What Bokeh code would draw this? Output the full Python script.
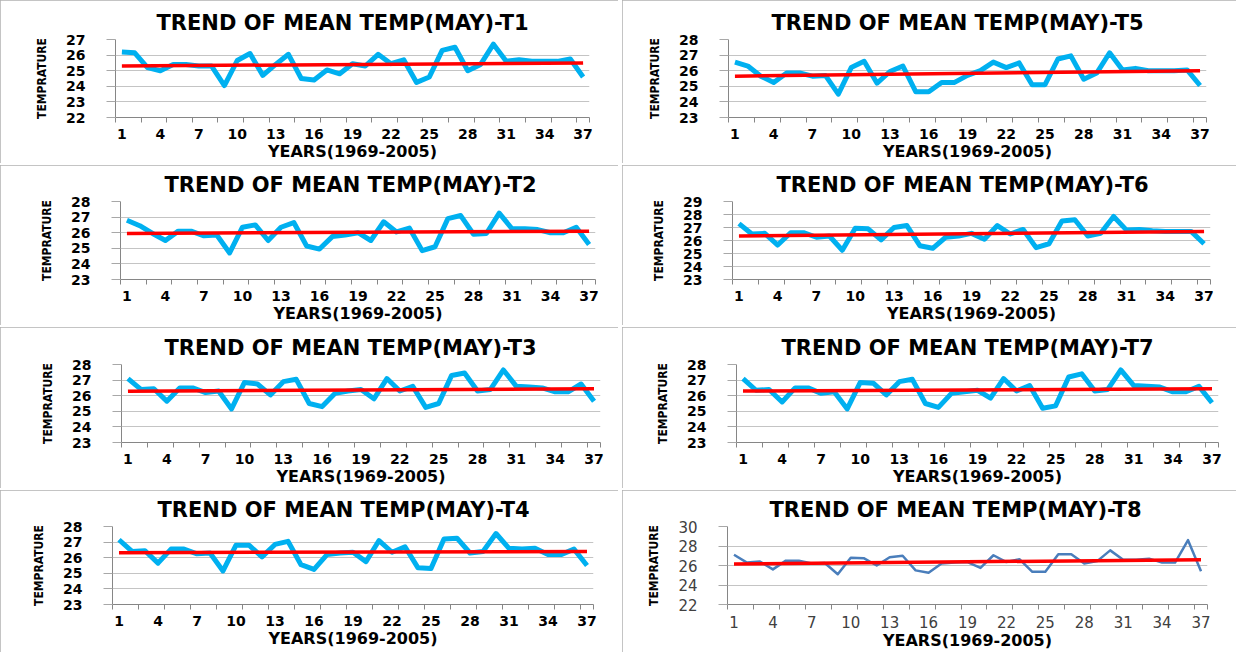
from bokeh.plotting import figure
from bokeh.layouts import column, row
from bokeh.models import Range1d, FixedTicker
from bokeh.embed import file_html
from bokeh.resources import INLINE

# ---------------- data ----------------
years = list(range(1, 38))
x_tick_labels = [1, 4, 7, 10, 13, 16, 19, 22, 25, 28, 31, 34, 37]

t1 = [26.2, 26.15, 25.2, 25.0, 25.4, 25.4, 25.3, 25.3, 24.05, 25.65, 26.1, 24.7, 25.4, 26.05,
      24.5, 24.4, 25.05, 24.8, 25.45, 25.3, 26.05, 25.45, 25.7, 24.25, 24.6, 26.3, 26.5, 25.0,
      25.4, 26.7, 25.6, 25.7, 25.6, 25.6, 25.6, 25.75, 24.6]
t2 = [26.8, 26.45, 25.95, 25.5, 26.1, 26.1, 25.8, 25.85, 24.7, 26.35, 26.5, 25.5, 26.35, 26.65,
      25.15, 24.95, 25.75, 25.85, 26.0, 25.5, 26.7, 26.05, 26.3, 24.85, 25.1, 26.9, 27.1, 25.9,
      25.95, 27.25, 26.25, 26.25, 26.2, 26.0, 26.0, 26.35, 25.25]
t3 = [27.1, 26.4, 26.45, 25.65, 26.5, 26.5, 26.2, 26.3, 25.15, 26.85, 26.75, 26.05, 26.9, 27.05,
      25.5, 25.3, 26.15, 26.3, 26.4, 25.8, 27.1, 26.3, 26.6, 25.25, 25.5, 27.3, 27.45, 26.3,
      26.4, 27.65, 26.6, 26.55, 26.5, 26.25, 26.25, 26.75, 25.65]
t4 = [27.15, 26.4, 26.45, 25.65, 26.55, 26.55, 26.25, 26.3, 25.15, 26.8, 26.8, 26.05, 26.85, 27.05,
      25.55, 25.25, 26.2, 26.3, 26.35, 25.75, 27.1, 26.35, 26.7, 25.35, 25.3, 27.2, 27.25, 26.3,
      26.4, 27.55, 26.6, 26.55, 26.6, 26.2, 26.2, 26.55, 25.5]
t5 = [26.55, 26.3, 25.65, 25.25, 25.85, 25.85, 25.65, 25.7, 24.5, 26.2, 26.6, 25.2, 25.95, 26.3,
      24.65, 24.65, 25.25, 25.25, 25.7, 26.0, 26.55, 26.2, 26.5, 25.1, 25.1, 26.75, 26.95, 25.45,
      25.85, 27.15, 26.05, 26.15, 26.0, 26.0, 26.0, 26.05, 25.05]
t6 = [27.3, 26.5, 26.55, 25.65, 26.6, 26.6, 26.25, 26.35, 25.25, 26.95, 26.9, 26.05, 27.0, 27.15,
      25.6, 25.4, 26.25, 26.35, 26.55, 26.1, 27.15, 26.5, 26.85, 25.45, 25.75, 27.5, 27.6, 26.35,
      26.55, 27.85, 26.8, 26.85, 26.75, 26.7, 26.7, 26.7, 25.75]
t7 = [27.1, 26.35, 26.4, 25.6, 26.5, 26.5, 26.15, 26.25, 25.15, 26.85, 26.8, 26.05, 26.9, 27.05,
      25.5, 25.25, 26.15, 26.25, 26.35, 25.85, 27.1, 26.3, 26.65, 25.2, 25.35, 27.2, 27.4, 26.3,
      26.4, 27.65, 26.65, 26.6, 26.55, 26.25, 26.25, 26.6, 25.55]
t8 = [27.1, 26.3, 26.4, 25.6, 26.5, 26.5, 26.2, 26.25, 25.1, 26.8, 26.75, 26.0, 26.85, 27.0,
      25.5, 25.25, 26.2, 26.3, 26.35, 25.75, 27.05, 26.35, 26.65, 25.35, 25.35, 27.15, 27.15, 26.2,
      26.45, 27.55, 26.6, 26.6, 26.7, 26.3, 26.3, 28.6, 25.4]

trend_t1 = [25.3, 25.5]
trend_t2 = [25.95, 26.1]
trend_t3 = [26.28, 26.45]
trend_t4 = [26.32, 26.4]
trend_t5 = [25.65, 26.0]
trend_t6 = [26.35, 26.7]
trend_t7 = [26.3, 26.45]
trend_t8 = [26.15, 26.6]

y_ticks_t1 = [22, 23, 24, 25, 26, 27]
y_ticks_t2 = [23, 24, 25, 26, 27, 28]
y_ticks_t3 = [23, 24, 25, 26, 27, 28]
y_ticks_t4 = [23, 24, 25, 26, 27, 28]
y_ticks_t5 = [23, 24, 25, 26, 27, 28]
y_ticks_t6 = [23, 24, 25, 26, 27, 28, 29]
y_ticks_t7 = [23, 24, 25, 26, 27, 28]
y_ticks_t8 = [22, 24, 26, 28, 30]

titles = ["TREND OF MEAN TEMP(MAY)-T%d" % i for i in range(1, 9)]
x_title = "YEARS(1969-2005)"
y_title = "TEMPRATURE"

# ---------------- layout / style (not data) ----------------
LEFT_W, RIGHT_W = 618, 614
ROW_H = [163, 160, 161, 162]
# (min_border_left, right, top, bottom, title_offset)
geom = {
    "t1": (115, 29, 39, 44, 41),
    "t2": (120, 23, 34, 45, 44),
    "t3": (121, 18, 36, 46, 43),
    "t4": (112, 25, 36, 45, 45),
    "t5": (106, 30, 37, 45, 43),
    "t6": (110, 26, 33, 45, 44),
    "t7": (114, 18, 37, 45, 45),
    "t8": (105, 29, 36, 45, 42),
}
BOLD_FONT = "DejaVu Sans"
NARROW_FONT = "'DejaVu Sans Condensed', 'Liberation Sans', sans-serif"


def panel(key, width, height, title, values, trend, yticks, thin=False):
    bl, br, bt, bb, toff = geom[key]
    p = figure(width=width, height=height, output_backend="svg", toolbar_location=None,
               x_range=Range1d(0.5, 37.5), y_range=Range1d(yticks[0], yticks[-1]),
               min_border_left=bl, min_border_right=br, min_border_top=bt, min_border_bottom=bb,
               background_fill_color="white", border_fill_color="white", outline_line_color=None)
    p.styles = {"outline": "1px solid #b0b0b0", "outline-offset": "-1px"}

    p.title.text = title
    p.title.text_font = BOLD_FONT
    p.title.text_font_style = "bold"
    p.title.text_font_size = "21px"
    p.title.text_color = "#000000"
    p.title.align = "left"
    p.title.offset = toff
    p.title.standoff = 10

    p.xgrid.grid_line_color = None
    p.ygrid.grid_line_color = "#c4c4c4"
    p.ygrid.grid_line_width = 1

    label_style = "normal" if thin else "bold"
    label_color = "#404040" if thin else "#000000"
    label_size = "15px" if thin else "14px"

    xa = p.xaxis[0]
    xa.ticker = FixedTicker(ticks=x_tick_labels,
                            minor_ticks=[0.5 + 2 * i for i in range(19)] + [37.5])
    xa.axis_line_color = "#868686"
    xa.major_tick_out = 0
    xa.major_tick_in = 0
    xa.minor_tick_out = 5
    xa.minor_tick_in = 0
    xa.minor_tick_line_color = "#868686"
    xa.major_label_text_font = BOLD_FONT
    xa.major_label_text_font_style = label_style
    xa.major_label_text_font_size = label_size
    xa.major_label_text_color = label_color
    xa.major_label_standoff = 6
    xa.axis_label = x_title
    xa.axis_label_text_font = BOLD_FONT
    xa.axis_label_text_font_style = "bold"
    xa.axis_label_text_font_size = "16px"
    xa.axis_label_text_color = "#000000"
    xa.axis_label_standoff = 0

    ya = p.yaxis[0]
    ya.ticker = FixedTicker(ticks=yticks, minor_ticks=[])
    ya.axis_line_color = "#868686"
    ya.major_tick_out = 9
    ya.major_tick_in = 0
    ya.major_tick_line_color = "#a8a8a8"
    ya.minor_tick_line_color = None
    ya.major_label_text_font = BOLD_FONT
    ya.major_label_text_font_style = label_style
    ya.major_label_text_font_size = label_size
    ya.major_label_text_color = label_color
    ya.major_label_standoff = 21
    ya.axis_label = y_title
    ya.axis_label_text_font = NARROW_FONT
    ya.axis_label_text_font_style = "bold"
    ya.axis_label_text_font_size = "12px"
    ya.axis_label_text_color = "#000000"
    ya.axis_label_standoff = 14

    if thin:
        p.line(years, values, line_color="#4a7ebb", line_width=2.5, line_join="round")
    else:
        p.line(years, values, line_color="#00b0f0", line_width=5, line_join="round")
    p.line([years[0], years[-1]], trend, line_color="#ff0000", line_width=3.5)
    return p


p1 = panel("t1", LEFT_W, ROW_H[0], titles[0], t1, trend_t1, y_ticks_t1)
p2 = panel("t2", LEFT_W, ROW_H[1], titles[1], t2, trend_t2, y_ticks_t2)
p3 = panel("t3", LEFT_W, ROW_H[2], titles[2], t3, trend_t3, y_ticks_t3)
p4 = panel("t4", LEFT_W, ROW_H[3], titles[3], t4, trend_t4, y_ticks_t4)
p5 = panel("t5", RIGHT_W, ROW_H[0], titles[4], t5, trend_t5, y_ticks_t5)
p6 = panel("t6", RIGHT_W, ROW_H[1], titles[5], t6, trend_t6, y_ticks_t6)
p7 = panel("t7", RIGHT_W, ROW_H[2], titles[6], t7, trend_t7, y_ticks_t7)
p8 = panel("t8", RIGHT_W, ROW_H[3], titles[7], t8, trend_t8, y_ticks_t8, thin=True)

layout = column(
    row(p1, p5, spacing=4),
    row(p2, p6, spacing=4),
    row(p3, p7, spacing=4),
    row(p4, p8, spacing=4),
    spacing=2,
)

open("out.html", "w").write(file_html(layout, INLINE, title="Trend of mean temperature (May)"))
